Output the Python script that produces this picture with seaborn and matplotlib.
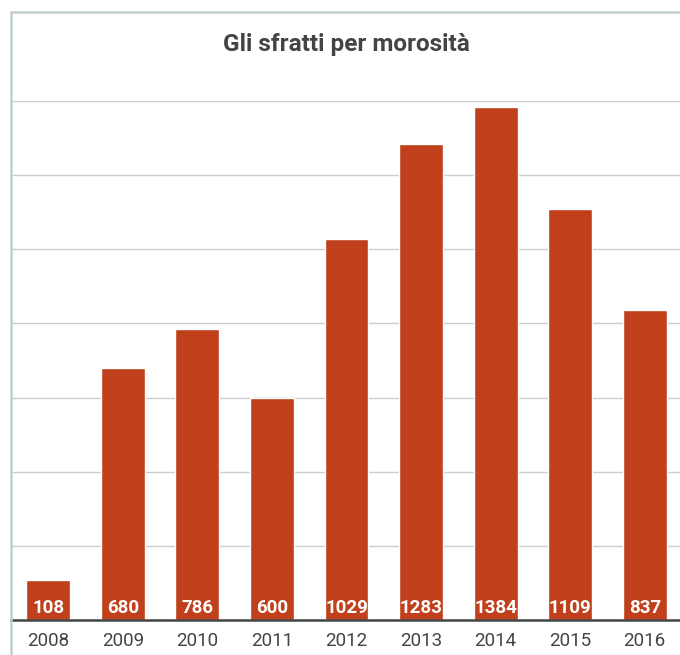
import matplotlib.pyplot as plt
import seaborn as sns
from matplotlib.lines import Line2D

anni = ["2008", "2009", "2010", "2011", "2012", "2013", "2014", "2015", "2016"]
sfratti = [108, 680, 786, 600, 1029, 1283, 1384, 1109, 837]
y_ticks = [0, 200, 400, 600, 800, 1000, 1200, 1400]

sns.set_style("white")
plt.rcParams['font.family'] = ['Roboto', 'DejaVu Sans']

fig = plt.figure(figsize=(6.8, 6.55), dpi=100)

W, H = 680, 655
ax = fig.add_axes([11 / W, 35 / H, 671 / W, 519 / H])

sns.barplot(
    x=anni,
    y=sfratti,
    color="#c0401b",
    saturation=1,
    width=0.59,
    ax=ax
)

ax.set_xlim(-0.5, len(anni) - 0.5)
ax.set_ylim(0, 1394)
ax.set_yticks(y_ticks)
ax.yaxis.grid(True, color="#cccccc", linewidth=1)
ax.set_axisbelow(True)
ax.tick_params(axis="y", left=False, labelleft=False)
ax.tick_params(axis="x", bottom=False, labelsize=13.5, colors="#444444", pad=5)

for side in ["top", "left", "right"]:
    ax.spines[side].set_visible(False)
ax.spines["bottom"].set_color("#444444")
ax.spines["bottom"].set_linewidth(1.8)

for i, v in enumerate(sfratti):
    ax.annotate(
        str(v),
        (i, 0),
        xytext=(0, 2),
        textcoords="offset points",
        ha="center",
        va="bottom",
        color="white",
        fontsize=13.5,
        fontweight="bold"
    )

fig.text(346 / W, 1 - 44 / H, "Gli sfratti per morosità",
         ha="center", va="center", fontsize=17.5, fontweight="bold",
         color="#444444")

# cornice del riquadro
fig.add_artist(Line2D([11 / W, 11 / W], [0, 1 - 12 / H],
                      transform=fig.transFigure, color="#c3cfcf", linewidth=1.8))
fig.add_artist(Line2D([11 / W, 1], [1 - 12 / H, 1 - 12 / H],
                      transform=fig.transFigure, color="#c3cfcf", linewidth=1.8))

plt.savefig("out.png")
plt.close()
